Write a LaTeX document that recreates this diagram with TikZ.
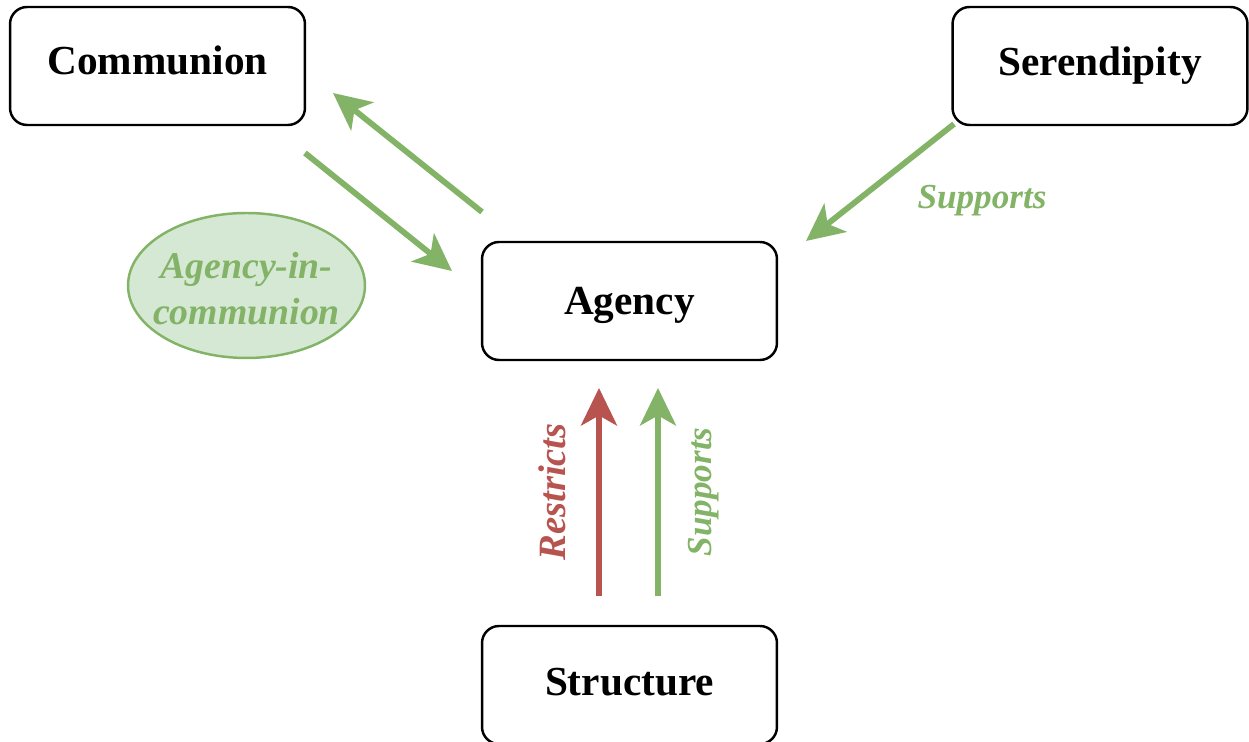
\documentclass[tikz,border=0pt]{standalone}
\usepackage{fontspec}
\setmainfont{Liberation Serif}
\usetikzlibrary{arrows.meta,shapes.geometric}
\definecolor{dgreen}{HTML}{82B366}
\definecolor{dred}{HTML}{B85450}
\definecolor{lgreen}{HTML}{D5E8D4}
\begin{document}
\begin{tikzpicture}[x=0.02cm,y=-0.02cm,
  box/.style={draw=black,line width=1.4pt,rounded corners=0.34cm,minimum width=5.9cm,minimum height=2.36cm,font=\fontsize{23.5}{27}\selectfont\bfseries,inner sep=0pt,text height=15.6pt,text depth=0pt},
  arr/.style={line width=3.3pt,-{Stealth[length=0.75cm,width=0.72cm,inset=0.2cm]}},
  lab/.style={font=\fontsize{20}{24}\selectfont\bfseries\itshape}]
\useasboundingbox (0,0) rectangle (1249,742);
\node[box,text depth=6.3pt] (comm) at (157.5,66) {Communion};
\node[box,text depth=4.5pt] (ser) at (1100,66) {Serendipity};
\node[box] (ag) at (629.5,301) {Agency};
\node[box,text depth=4pt] (st) at (629.5,685) {Structure};
\node[draw=dgreen,fill=lgreen,line width=1.4pt,ellipse,minimum width=4.74cm,minimum height=2.9cm,inner sep=0pt] (aic) at (246.5,285.5) {};
\node[align=center,text=dgreen,inner sep=0pt,font=\fontsize{21.5}{26.5}\selectfont\bfseries\itshape] (aictext) at (246.5,288.5) {Agency-in-\\communion};
\coordinate (a1s) at (482,212);
\coordinate (a1e) at (333,93);
\coordinate (a2s) at (305,153);
\coordinate (a2e) at (452,271);
\coordinate (a3s) at (954,124);
\coordinate (a3e) at (806,241);
\coordinate (r1s) at (599,596);
\coordinate (r1e) at (599,388);
\coordinate (g1s) at (658,596);
\coordinate (g1e) at (658,388);
\draw[arr,dgreen] (a1s) -- (a1e);
\draw[arr,dgreen] (a2s) -- (a2e);
\draw[arr,dgreen] (a3s) -- (a3e);
\draw[arr,dred] (r1s) -- (r1e);
\draw[arr,dgreen] (g1s) -- (g1e);
\node[lab,text=dgreen] (sup1) at (982,201) {Supports};
\node[lab,text=dred,rotate=90,font=\fontsize{22}{26}\selectfont\bfseries\itshape] (res) at (552,492) {Restricts};
\node[lab,text=dgreen,rotate=90] (sup2) at (704,492) {Supports};
\end{tikzpicture}
\end{document}
